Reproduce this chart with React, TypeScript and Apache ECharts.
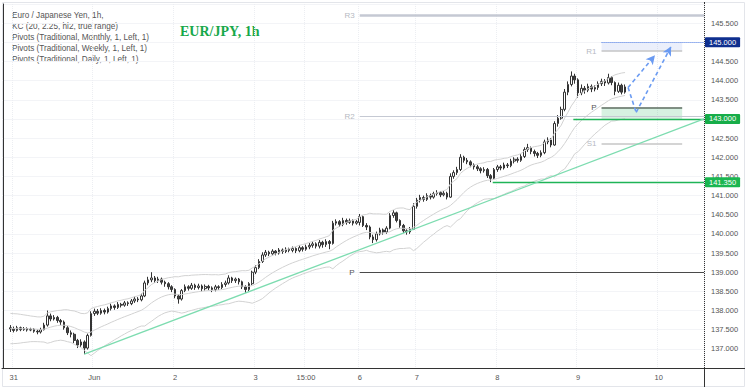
import React, { useEffect, useRef } from 'react';
import * as echarts from 'echarts';

// ---------- data (EUR/JPY hourly, chart time UTC+10) ----------
const opens = [
  137.55,137.52,137.48,137.55,137.50,137.53,137.49,137.51,137.46,137.44,
  137.50,137.62,137.86,137.78,137.82,137.74,137.70,137.55,137.42,137.38,
  137.22,137.10,137.18,137.02,137.35,137.92,137.98,137.93,138.00,137.96,
  138.05,138.12,138.08,138.16,138.14,138.20,138.18,138.25,138.30,138.28,
  138.38,138.72,138.80,138.85,138.78,138.82,138.74,138.70,138.62,138.55,
  138.38,138.30,138.52,138.62,138.58,138.66,138.60,138.64,138.57,138.63,
  138.59,138.55,138.62,138.60,138.68,138.72,138.85,138.78,138.82,138.75,
  138.62,138.55,138.70,139.00,139.12,139.28,139.45,139.52,139.48,139.55,
  139.50,139.58,139.54,139.60,139.57,139.62,139.56,139.64,139.60,139.66,
  139.70,139.74,139.68,139.78,139.72,139.80,139.75,140.28,140.32,140.25,
  140.35,140.30,140.34,140.28,140.30,140.45,140.22,140.18,139.92,139.85,
  140.00,140.10,140.05,140.15,140.48,140.55,140.35,140.22,140.08,140.05,
  140.12,140.72,140.88,140.95,140.90,141.00,140.96,141.05,141.08,141.02,
  141.06,140.96,141.50,141.60,141.68,142.00,141.92,141.88,141.80,141.75,
  141.70,141.65,141.68,141.52,141.45,141.68,141.75,141.72,141.80,141.78,
  141.90,141.95,141.92,142.02,142.20,142.25,142.15,142.10,142.05,142.12,
  142.40,142.45,142.32,142.88,143.02,143.25,143.70,143.90,144.12,144.02,
  143.68,143.80,143.75,143.85,143.78,143.82,143.92,143.98,143.94,144.08,
  143.95,143.72,143.88,143.70
];
const closes = [
  137.52,137.48,137.55,137.50,137.53,137.49,137.51,137.46,137.44,137.50,
  137.62,137.86,137.78,137.82,137.74,137.70,137.55,137.42,137.38,137.22,
  137.10,137.18,137.02,137.35,137.92,137.98,137.93,138.00,137.96,138.05,
  138.12,138.08,138.16,138.14,138.20,138.18,138.25,138.30,138.28,138.38,
  138.72,138.80,138.85,138.78,138.82,138.74,138.70,138.62,138.55,138.38,
  138.30,138.52,138.62,138.58,138.66,138.60,138.64,138.57,138.63,138.59,
  138.55,138.62,138.60,138.68,138.72,138.85,138.78,138.82,138.75,138.62,
  138.55,138.70,139.00,139.12,139.28,139.45,139.52,139.48,139.55,139.50,
  139.58,139.54,139.60,139.57,139.62,139.56,139.64,139.60,139.66,139.70,
  139.74,139.68,139.78,139.72,139.80,139.75,140.28,140.32,140.25,140.35,
  140.30,140.34,140.28,140.32,140.45,140.22,140.18,139.92,139.85,140.00,
  140.10,140.05,140.15,140.48,140.55,140.35,140.22,140.08,140.05,140.12,
  140.72,140.88,140.95,140.90,141.00,140.96,141.05,141.08,141.02,141.06,
  140.96,141.50,141.60,141.68,142.00,141.92,141.88,141.80,141.75,141.70,
  141.65,141.68,141.52,141.45,141.68,141.75,141.72,141.80,141.78,141.90,
  141.95,141.92,142.02,142.20,142.25,142.15,142.10,142.05,142.12,142.40,
  142.45,142.32,142.88,143.02,143.25,143.70,143.90,144.12,144.02,143.68,
  143.80,143.75,143.85,143.78,143.82,143.92,143.98,143.94,144.08,143.95,
  143.72,143.88,143.70,143.836
];
const lows = [
  137.44,137.43,137.45,137.46,137.47,137.45,137.46,137.42,137.38,137.40,
  137.48,137.58,137.72,137.74,137.68,137.62,137.50,137.36,137.30,137.15,
  137.02,137.05,136.86,136.98,137.32,137.86,137.88,137.89,137.90,137.92,
  138.00,138.02,138.04,138.08,138.10,138.12,138.14,138.20,138.22,138.24,
  138.35,138.66,138.74,138.72,138.72,138.68,138.62,138.55,138.48,138.32,
  138.18,138.26,138.48,138.52,138.54,138.54,138.55,138.50,138.52,138.53,
  138.48,138.50,138.54,138.56,138.62,138.68,138.72,138.72,138.68,138.56,
  138.46,138.50,138.66,138.95,139.08,139.24,139.40,139.42,139.44,139.44,
  139.46,139.48,139.50,139.52,139.52,139.50,139.52,139.54,139.56,139.60,
  139.64,139.62,139.62,139.64,139.66,139.60,139.72,140.22,140.18,140.20,
  140.24,140.26,140.22,140.24,140.22,140.18,140.10,139.86,139.76,139.80,
  139.96,139.98,140.00,140.12,140.42,140.30,140.16,140.02,139.98,140.00,
  140.10,140.66,140.82,140.84,140.86,140.90,140.92,141.00,140.96,140.98,
  140.90,140.94,141.44,141.54,141.64,141.86,141.82,141.74,141.68,141.64,
  141.58,141.60,141.46,141.35,141.42,141.62,141.66,141.68,141.72,141.74,
  141.84,141.86,141.88,141.98,142.14,142.08,142.02,141.98,142.00,142.08,
  142.34,142.26,142.30,142.80,142.98,143.20,143.62,143.85,143.92,143.55,
  143.62,143.66,143.70,143.70,143.72,143.76,143.86,143.86,143.90,143.88,
  143.62,143.68,143.64,143.66
];
const highs = [
  137.62,137.58,137.60,137.58,137.57,137.56,137.55,137.54,137.50,137.55,
  137.68,138.00,137.92,137.88,137.86,137.78,137.74,137.60,137.48,137.42,
  137.26,137.25,137.22,137.40,137.98,138.05,138.04,138.06,138.05,138.10,
  138.18,138.16,138.22,138.20,138.25,138.24,138.30,138.36,138.35,138.44,
  138.78,138.88,139.00,138.90,138.88,138.86,138.78,138.74,138.66,138.58,
  138.42,138.56,138.68,138.66,138.72,138.70,138.70,138.68,138.68,138.67,
  138.63,138.67,138.66,138.74,138.78,138.92,138.88,138.86,138.85,138.78,
  138.66,138.74,139.04,139.18,139.34,139.52,139.58,139.56,139.60,139.58,
  139.63,139.62,139.65,139.64,139.67,139.65,139.70,139.68,139.72,139.76,
  139.80,139.78,139.84,139.82,139.86,139.84,140.34,140.38,140.36,140.42,
  140.40,140.40,140.38,140.36,140.52,140.48,140.28,140.22,139.98,140.06,
  140.16,140.14,140.20,140.54,140.62,140.58,140.38,140.26,140.12,140.18,
  140.80,140.94,141.02,141.00,141.06,141.05,141.10,141.14,141.12,141.12,
  141.10,141.58,141.66,141.75,142.08,142.04,141.98,141.92,141.84,141.80,
  141.74,141.74,141.72,141.56,141.72,141.80,141.80,141.86,141.85,141.96,
  142.00,142.00,142.08,142.26,142.35,142.28,142.20,142.14,142.18,142.46,
  142.52,142.50,142.94,143.10,143.32,143.78,143.98,144.24,144.18,144.06,
  143.90,143.86,143.92,143.90,143.88,143.98,144.05,144.04,144.18,144.12,
  143.98,143.95,143.92,143.90
];

// time slots (hourly, weekend removed)
const HOUR = 3600000;
const START_TIME = Date.UTC(2022, 4, 30, 21);
const WEEKEND_CLOSE = Date.UTC(2022, 5, 4, 7);
const WEEK_OPEN = Date.UTC(2022, 5, 6, 7);
const INTRADAY_LABEL_TIME = Date.UTC(2022, 5, 3, 15);
const FIRST_BAR_TIME = Date.UTC(2022, 4, 30, 23);
const DAILY_PIVOT_START = Date.UTC(2022, 5, 9, 7);
const DAILY_PIVOT_END = Date.UTC(2022, 5, 10, 7);
const SLOT_COUNT = 209;

// pivots
const weeklyPivotNames = ['R3', 'R2', 'P'];
const weeklyPivotValues = [145.7, 143.07, 139.0];
const dailyPivotNames = ['R1', 'P', 'S1'];
const dailyPivotValues = [144.77, 143.3, 142.36];

// drawn levels
const levelValues = [145.0, 143.0, 141.35];
const levelStartSlots = [178, 169.6, 145.6];
const currentPrice = 143.836;
const trendStart = [24, 136.86];
const trendEnd = [208.5, 143.0];
const arrowOne = [[185.9, 143.82], [193.9, 144.66]];
const arrowTwo = [[185.9, 143.82], [188.3, 143.17], [198.7, 144.89]];
const greenZone = [143.0, 143.3];
const blueZone = [144.77, 145.0];

const legendLines = [
  'Euro / Japanese Yen, 1h,',
  'KC (20, 2.25, hl2, true range)',
  'Pivots (Traditional, Monthly, 1, Left, 1)',
  'Pivots (Traditional, Weekly, 1, Left, 1)',
  'Pivots (Traditional, Daily, 1, Left, 1)'
];
const titleText = 'EUR/JPY, 1h';

// ---------- helpers ----------
function buildSlots() {
  const times: number[] = [];
  let t = START_TIME;
  while (times.length < SLOT_COUNT) {
    if (t >= WEEKEND_CLOSE && t < WEEK_OPEN) { t += HOUR; continue; }
    times.push(t);
    t += HOUR;
  }
  const labels = times.map((tm, i) => {
    const d = new Date(tm);
    const day = d.getUTCDate();
    if (i > 0 && tm - times[i - 1] > HOUR) return String(day);
    if (d.getUTCHours() === 0 && d.getUTCDay() !== 6) return day === 1 ? 'Jun' : String(day);
    if (tm === INTRADAY_LABEL_TIME) return '15:00';
    return '';
  });
  return { times, labels };
}

function keltner(len: number, mult: number) {
  const a = 2 / (len + 1);
  const up: number[] = [], mid: number[] = [], lo: number[] = [];
  const trs: number[] = closes.map((_, k) => k === 0 ? highs[0] - lows[0]
    : Math.max(highs[k] - lows[k], Math.abs(highs[k] - closes[k - 1]), Math.abs(lows[k] - closes[k - 1])));
  let rng = trs.slice(0, len).reduce((s, v) => s + v, 0) / len;
  let ema: number | null = null;
  for (let k = 0; k < closes.length; k++) {
    const hl2 = (highs[k] + lows[k]) / 2;
    ema = ema == null ? hl2 : ema + a * (hl2 - ema);
    if (k > 0) rng = rng + a * (trs[k] - rng);
    mid.push(ema); up.push(ema + mult * rng); lo.push(ema - mult * rng);
  }
  return { up, mid, lo };
}

export default function App() {
  const ref = useRef<HTMLDivElement>(null);
  useEffect(() => {
    if (!ref.current) return;
    const chart = echarts.init(ref.current, null, { renderer: 'svg' });
    const { times, labels } = buildSlots();
    const cats = times.map((t) => String(t));
    const first = times.indexOf(FIRST_BAR_TIME);
    const wkStart = times.indexOf(WEEK_OPEN);
    const dStart = times.indexOf(DAILY_PIVOT_START);
    const dEnd = times.indexOf(DAILY_PIVOT_END);
    const xEnd = SLOT_COUNT - 0.5;

    const candle: any[] = cats.map(() => '-');
    for (let k = 0; k < closes.length; k++) candle[first + k] = [opens[k], closes[k], lows[k], highs[k]];
    const kc = keltner(20, 2.25);
    const band = (arr: number[]) => {
      const out: any[] = cats.map(() => '-');
      arr.forEach((v, k) => { out[first + k] = +v.toFixed(4); });
      return out;
    };

    const FONT = 'Liberation Sans';
    const hLine = (x1: number, x2: number, v: number, color: string, width: number, type: any, label?: any) => [
      { coord: [x1, v], symbol: 'none', lineStyle: { color, width, type }, label: label || { show: false } },
      { coord: [x2, v], symbol: 'none' }
    ];
    const pivotLabel = (txt: string, color: string) => ({
      show: true, position: 'start', distance: 5, formatter: txt, color, fontSize: 8, fontFamily: FONT
    });
    const priceTag = (txt: string, bg: string, fg: string) => ({
      show: true, position: 'end', distance: 1, formatter: txt, color: fg, backgroundColor: bg,
      padding: [1, 4, 1, 4], fontSize: 7.5, fontFamily: FONT, borderRadius: 1
    });

    const marks: any[] = [];
    weeklyPivotNames.forEach((n, k) => {
      const isP = n === 'P';
      marks.push(hLine(wkStart, xEnd, weeklyPivotValues[k], isP ? '#4a4a4a' : '#c5c9d3', n === 'R3' ? 2.5 : 1, 'solid',
        pivotLabel(n, isP ? '#555' : '#b6b9c2')));
    });
    dailyPivotNames.forEach((n, k) => {
      const isP = n === 'P';
      marks.push(hLine(dStart, dEnd, dailyPivotValues[k], isP ? '#5f6d62' : '#c6c6c6', 1.5, 'solid',
        pivotLabel(n, isP ? '#555' : '#b6b9c2')));
    });
    const levelColors = ['#4a7ae8', '#1fb457', '#1fb457'];
    const levelTypes = ['dotted', 'solid', 'solid'];
    const tagColors = ['#0f2f8f', '#17ad49', '#1ab650'];
    levelValues.forEach((v, k) => {
      marks.push(hLine(levelStartSlots[k], xEnd, v, levelColors[k], k === 0 ? 1 : 1.3, levelTypes[k],
        priceTag(v.toFixed(3), tagColors[k], '#ffffff')));
    });
    marks.push([
      { coord: [first + closes.length - 1, currentPrice], symbol: 'none', lineStyle: { opacity: 0 },
        label: priceTag(currentPrice.toFixed(3), '#ffffff', '#131722') },
      { coord: [xEnd, currentPrice], symbol: 'none' }
    ]);
    marks.push([
      { coord: trendStart, symbol: 'none', lineStyle: { color: '#7ddcb0', width: 1.3, type: 'solid' }, label: { show: false } },
      { coord: trendEnd, symbol: 'none' }
    ]);
    const arrowStyle = { color: '#6b9bf2', width: 1.6, type: [4, 3] };
    const addPath = (pts: number[][]) => {
      for (let k = 0; k < pts.length - 1; k++) {
        marks.push([
          { coord: pts[k], symbol: 'none', lineStyle: arrowStyle, label: { show: false } },
          { coord: pts[k + 1], symbol: k === pts.length - 2 ? 'arrow' : 'none', symbolSize: [7, 9] }
        ]);
      }
    };
    addPath(arrowOne);
    addPath(arrowTwo);

    const tagged = levelValues.map((v) => v.toFixed(3));

    const option: any = {
      animation: false,
      backgroundColor: '#ffffff',
      grid: { left: 2, right: 43, top: 4, bottom: 21 },
      xAxis: [
        {
          type: 'category', data: cats, boundaryGap: true,
          axisLine: { lineStyle: { color: '#333' } },
          axisTick: { show: false },
          axisLabel: {
            interval: (i: number) => labels[i] !== '',
            formatter: (_v: string, i: number) => labels[i],
            color: '#555', fontSize: 7.5, fontFamily: FONT, margin: 5
          },
          splitLine: { show: true, interval: (i: number) => labels[i] !== '', lineStyle: { color: '#eceef2', type: 'dotted' } }
        },
        { type: 'value', min: -0.5, max: xEnd, show: false }
      ],
      yAxis: {
        type: 'value', position: 'right', min: 136.5, max: 146, interval: 0.5, scale: true,
        axisLine: { show: true, lineStyle: { color: '#333' } },
        axisTick: { show: false },
        axisLabel: {
          formatter: (v: number) => (tagged.indexOf(v.toFixed(3)) >= 0 ? '' : v.toFixed(3)),
          showMinLabel: false, showMaxLabel: false,
          color: '#555', fontSize: 7.5, fontFamily: FONT, margin: 7
        },
        splitLine: { show: true, lineStyle: { color: '#f3f4f7' } }
      },
      series: [
        { type: 'line', data: band(kc.up), symbol: 'none', lineStyle: { color: '#d2d2d2', width: 1 }, silent: true },
        { type: 'line', data: band(kc.mid), symbol: 'none', lineStyle: { color: '#d2d2d2', width: 1 }, silent: true },
        { type: 'line', data: band(kc.lo), symbol: 'none', lineStyle: { color: '#d2d2d2', width: 1 }, silent: true },
        {
          type: 'candlestick', data: candle, barWidth: '62%',
          itemStyle: { color: '#ffffff', color0: '#444444', borderColor: '#333333', borderColor0: '#333333', borderWidth: 1 }
        },
        {
          type: 'line', xAxisIndex: 1, data: [], silent: true,
          markArea: {
            silent: true,
            data: [
              [{ coord: [dStart, greenZone[0]], itemStyle: { color: 'rgba(30,180,90,0.18)' } }, { coord: [dEnd, greenZone[1]] }],
              [{ coord: [dStart, blueZone[0]], itemStyle: { color: 'rgba(90,120,220,0.12)' } }, { coord: [dEnd, blueZone[1]] }]
            ]
          },
          markLine: { silent: true, symbol: ['none', 'none'], data: marks }
        }
      ],
      graphic: [
        { type: 'rect', shape: { x: 2.5, y: 2.5, width: 742, height: 384 }, style: { fill: 'none', stroke: '#e3e5ea', lineWidth: 1 }, silent: true },
        { type: 'line', shape: { x1: 704.5, y1: 2, x2: 704.5, y2: 387 }, style: { stroke: '#333', lineWidth: 1 } },
        { type: 'line', shape: { x1: 2, y1: 368.5, x2: 745, y2: 368.5 }, style: { stroke: '#333', lineWidth: 1 } },
        ...legendLines.map((t, k) => ({
          type: 'text', x: 12, y: 15 + k * 11,
          style: { text: t, fill: '#555', font: `8.2px "${FONT}"`, textVerticalAlign: 'middle' }
        })),
        {
          type: 'text', x: 180, y: 31,
          style: { text: titleText, fill: '#17a84a', font: 'bold 14px "Liberation Serif"', textVerticalAlign: 'middle' }
        }
      ]
    };
    chart.setOption(option);
    return () => chart.dispose();
  }, []);
  return <div ref={ref} style={{ position: 'fixed', left: 0, top: 0, width: 747, height: 389 }} />;
}
